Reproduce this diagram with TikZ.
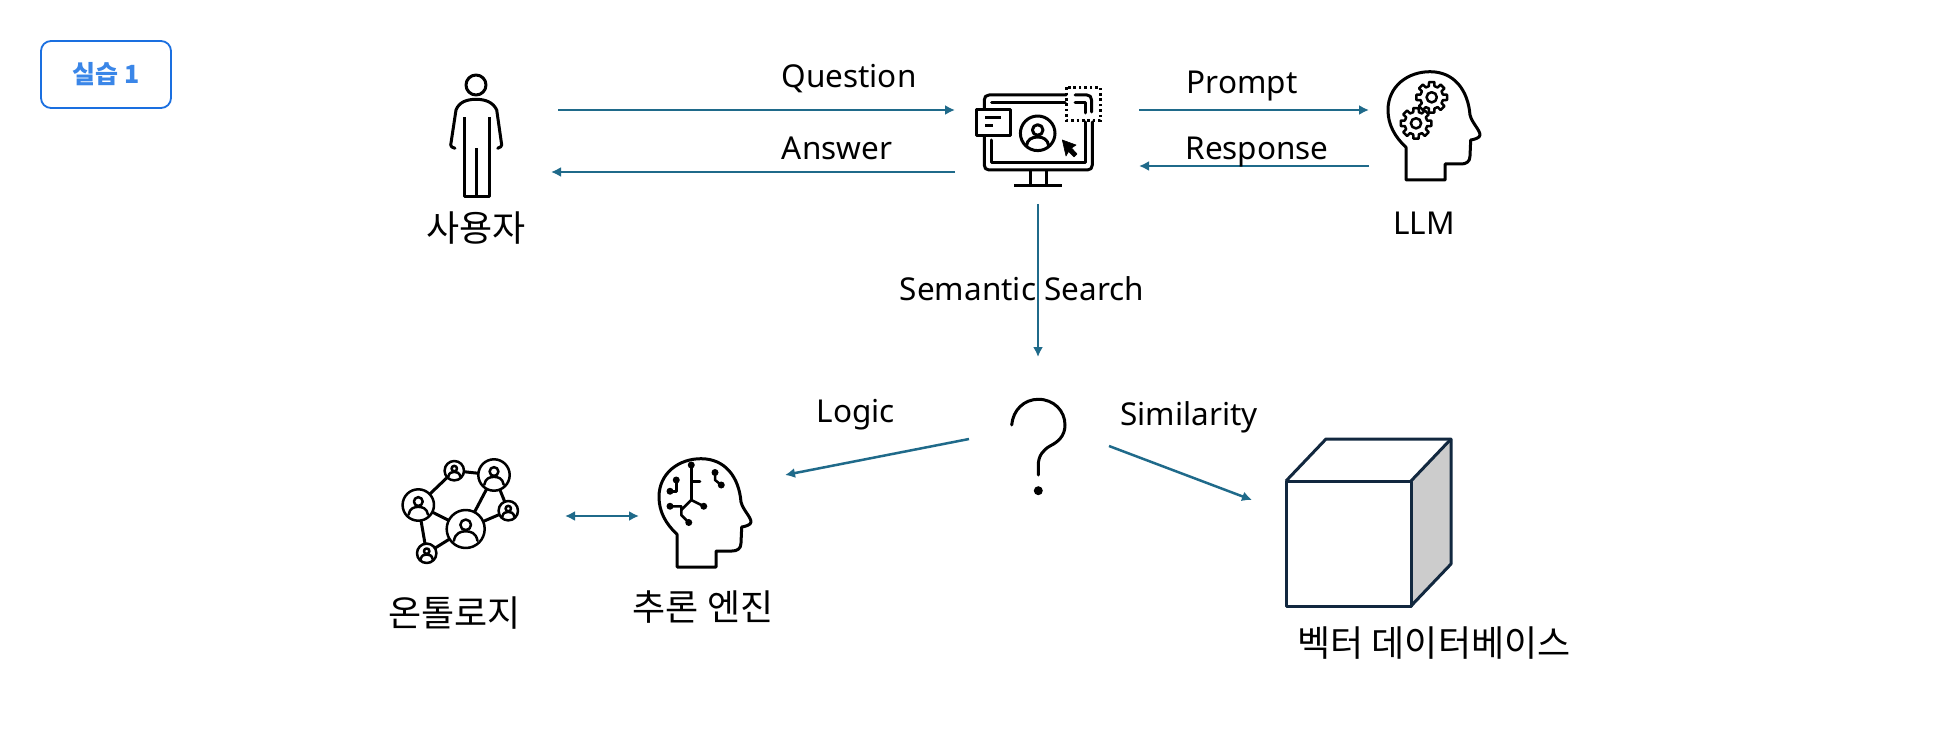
\documentclass[tikz,border=0pt]{standalone}
\usepackage{fontspec}
\setmainfont{Noto Sans}
\newfontfamily\cjk{Noto Sans CJK KR}
\usetikzlibrary{arrows.meta}
\definecolor{arrowc}{HTML}{1F6A8A}
\definecolor{badgeline}{HTML}{1A6FE0}
\definecolor{badgetext}{HTML}{3A86E8}
\definecolor{cubeline}{HTML}{12283F}
\definecolor{cubeside}{HTML}{CCCCCC}
\tikzset{
  flow/.style={draw=arrowc,line width=2.5pt,-{Latex[length=10pt,width=10pt]}},
  flowboth/.style={draw=arrowc,line width=2.5pt,{Latex[length=10pt,width=10pt]}-{Latex[length=10pt,width=10pt]}},
  lbl/.style={font=\fontsize{31.5}{36}\selectfont,text=black,inner sep=0pt},
  klbl/.style={font=\fontsize{36}{40}\selectfont\cjk,text=black,inner sep=0pt},
  icon/.style={draw=black,line width=3pt,line join=round,line cap=round},
  thin icon/.style={draw=black,line width=2.5pt,line join=round,line cap=round},
  cubeedge/.style={draw=cubeline,line width=3pt,line join=round},
  badge/.style={draw=badgeline,line width=1.8pt,rounded corners=10pt,fill=white},
}
\newcommand{\headoutline}[2]{%
  \draw[icon,shift={(#1,#2)}] (1406,180) -- (1406,147.3)
    .. controls (1395,137) and (1388,125) .. (1388,110)
    .. controls (1388,86) and (1408,71.7) .. (1430,71.7)
    .. controls (1454,71.7) and (1468,90) .. (1470,115)
    .. controls (1472,123) and (1480,130) .. (1480,135)
    .. controls (1480,138) and (1474,139.5) .. (1470.7,140)
    -- (1470,156) .. controls (1470,162) and (1466,164) .. (1461,164)
    -- (1445,164) -- (1445,180) -- cycle;}
\newcommand{\gearicon}[3]{%
  \begin{scope}[shift={(#1,#2)}]
  \draw[thin icon] (22.5-18:#3) \foreach \a in {0,45,...,315}{
    -- (\a+10:#3) -- (\a+14:#3*.74) -- (\a+31:#3*.74) -- (\a+35:#3)} -- cycle;
  \draw[thin icon] (0,0) circle (#3*.33);
  \end{scope}}
\newcommand{\netperson}[3]{%
  \begin{scope}[shift={(#1,#2)}]
  \draw[thin icon,fill=white] (0,0) circle (#3);
  \draw[thin icon] (0,-.22*#3) circle (.28*#3);
  \draw[thin icon] (-.62*#3,.62*#3) .. controls (-.55*#3,.2*#3) and (-.25*#3,.12*#3) .. (0,.12*#3)
     .. controls (.25*#3,.12*#3) and (.55*#3,.2*#3) .. (.62*#3,.62*#3);
  \end{scope}}
\begin{document}
\begin{tikzpicture}[x=1pt,y=-1pt]
\useasboundingbox (0,0) rectangle (1960,730);
\fill[white] (0,0) rectangle (1960,730);

% badge
\node[badge,minimum width=130pt,minimum height=67pt,inner sep=0pt] (badgebox) at (106,74.5) {};
\node[font=\fontsize{25}{28}\selectfont\cjk\bfseries,text=badgetext,inner sep=0pt] (badgelabel) at (106,74.5) {실습 1};

% anchors of connectors
\coordinate (userR1) at (558,110);
\coordinate (appL1) at (955,110);
\coordinate (appL2) at (955,172);
\coordinate (userR2) at (551,172);
\coordinate (appR1) at (1139,110);
\coordinate (llmL1) at (1369,110);
\coordinate (llmL2) at (1369,166);
\coordinate (appR2) at (1139,166);
\coordinate (appB) at (1038,204);
\coordinate (qT) at (1038,357);
\coordinate (qL) at (969,439);
\coordinate (brainT) at (785,475);
\coordinate (qR) at (1109,446);
\coordinate (dbT) at (1252,500);
\coordinate (ontoR) at (565,516);
\coordinate (brainL) at (639,516);

\draw[flow] (userR1) -- (appL1);
\draw[flow] (appL2) -- (userR2);
\draw[flow] (appR1) -- (llmL1);
\draw[flow] (llmL2) -- (appR2);
\draw[flow] (appB) -- (qT);
\draw[flow] (qL) -- (brainT);
\draw[flow] (qR) -- (dbT);
\draw[flowboth] (ontoR) -- (brainL);

% labels
\node[lbl] (tquestion) at (849,79) {Question};
\node[lbl] (tanswer) at (837,148) {Answer};
\node[lbl] (tprompt) at (1242,86.5) {Prompt};
\node[lbl] (tresponse) at (1257,152) {Response};
\node[lbl] (tsemantic) at (1022,289) {Semantic Search};
\node[lbl] (tlogic) at (856,414.5) {Logic};
\node[lbl] (tsimilarity) at (1189,417.5) {Similarity};
\node[klbl] (tuser) at (476,228) {사용자};
\node[lbl] (tllm) at (1424,223) {LLM};
\node[klbl] (tonto) at (454.5,613) {온톨로지};
\node[klbl] (tengine) at (703,607) {추론 엔진};
\node[klbl] (tvector) at (1434,643) {벡터 데이터베이스};

% person
\draw[icon] (476,85) circle (10);
\draw[icon] (455,148.3) .. controls (452,147.5) and (450.7,146.5) .. (450.7,145)
  -- (456,110) .. controls (459,102) and (467,99.3) .. (476,99.3)
  .. controls (485,99.3) and (493,102) .. (496.7,110) -- (501.7,145)
  .. controls (501.7,146.5) and (500,147.5) .. (497.7,148.3);
\draw[icon,line cap=butt] (464,117.3) -- (464,196.5) -- (489,196.5) -- (489,117.3);
\draw[icon,line cap=butt] (476,148.3) -- (476,196);

% monitor
\begin{scope}
\draw[icon] (1066,95) -- (989,95) .. controls (986,95) and (984.3,97) .. (984.3,100) -- (984.3,108);
\draw[icon] (984.3,137) -- (984.3,165) .. controls (984.3,168) and (986,170) .. (989,170) -- (1087.5,170)
  .. controls (1090.5,170) and (1092.3,168) .. (1092.3,165) -- (1092.3,122);
\draw[icon] (1091.5,112) -- (1091.5,100) .. controls (1091.5,97) and (1090,95) .. (1087,95) -- (1075,95);
\draw[icon] (991.7,103) -- (1065,103);
\draw[icon] (1075,103) -- (1085,103) -- (1085,113);
\draw[icon] (1085,122) -- (1085,162.7) -- (991.7,162.7) -- (991.7,140);
\draw[icon,fill=white] (976,109.3) rectangle (1010,136);
\draw[icon,line cap=butt] (985,117.3) -- (1001,117.3);
\draw[icon,line cap=butt] (985,125.7) -- (993.3,125.7);
\draw[icon] (1037.7,133.3) circle (17.3);
\draw[icon] (1037.7,130) circle (5.3);
\draw[icon] (1026.5,146) .. controls (1027,139.5) and (1032,137) .. (1037.7,137) .. controls (1043,137) and (1048,139.5) .. (1048.7,146);
\draw[draw=black,fill=black,line width=.6pt,line join=round]
  (1062.3,140) -- (1076,145) -- (1071.5,148) -- (1077,154) -- (1074,157) -- (1068.5,151.5) -- (1066,156) -- cycle;
\draw[icon,line cap=butt] (1030,170) -- (1030,186);
\draw[icon,line cap=butt] (1046,170) -- (1046,186);
\draw[icon,line cap=butt] (1014.3,186) -- (1062.3,186);
\draw[draw=black,line width=3pt,dash pattern=on 2.6pt off 2.8pt] (1066.7,87.3) rectangle (1100,120.7);
\end{scope}

% LLM head
\headoutline{0}{0}
\gearicon{1431.7}{97.3}{15.5}
\gearicon{1416}{123.3}{15.5}

% question mark
\draw[icon] (1011.7,425) .. controls (1013,410) and (1024,399.3) .. (1038.3,399.3)
  .. controls (1054,399.3) and (1065,411) .. (1065,425)
  .. controls (1065,436) and (1058,442) .. (1050,446)
  .. controls (1043,450) and (1038.3,456) .. (1038.3,465) -- (1038.3,475);
\fill[black] (1038.3,490.7) circle (4.5);

% cube
\fill[cubeside] (1411,481) -- (1451,439) -- (1451,564) -- (1411,606) -- cycle;
\draw[cubeedge] (1286,481) rectangle (1411,606);
\draw[cubeedge] (1286,481) -- (1326,439) -- (1451,439) -- (1451,564) -- (1411,606);
\draw[cubeedge] (1411,481) -- (1451,439);

% network
\begin{scope}[shift={(395,455)},x=.3333pt,y=-.3333pt]
\draw[icon] (70,150) -- (178,47) -- (297,60) -- (212,222) -- (70,150) -- (95,295) -- (212,222) -- (340,167) -- (297,60);
\end{scope}
\netperson{454.3}{470.7}{9.7}
\netperson{494}{475}{15.7}
\netperson{508.3}{510.7}{9.7}
\netperson{465.7}{529}{19}
\netperson{418.3}{505}{15.7}
\netperson{426.7}{553.3}{9.7}

% brain head
\headoutline{-729}{387}
\begin{scope}[x=1.25pt,y=-1.25pt]
\draw[thin icon] (541,384) -- (541,393) -- (536,393);
\fill (541,384) circle (3.5pt);
\fill (536,393) circle (3.5pt);
\draw[thin icon] (553,372) -- (553,400);
\draw[thin icon] (553,385) -- (560,385);
\fill (553,372) circle (3.5pt);
\draw[thin icon] (572,378) -- (572,384) -- (577,388);
\fill (572,378) circle (3.5pt);
\fill (577,388) circle (3.5pt);
\draw[thin icon] (536,405) -- (545,405) -- (545,412) -- (551,418);
\fill (536,405) circle (3.5pt);
\fill (551,418) circle (3.5pt);
\draw[thin icon] (553,400) -- (545,408);
\draw[thin icon] (553,400) -- (563,405);
\fill (563,405) circle (3.5pt);
\end{scope}
\end{tikzpicture}
\end{document}
